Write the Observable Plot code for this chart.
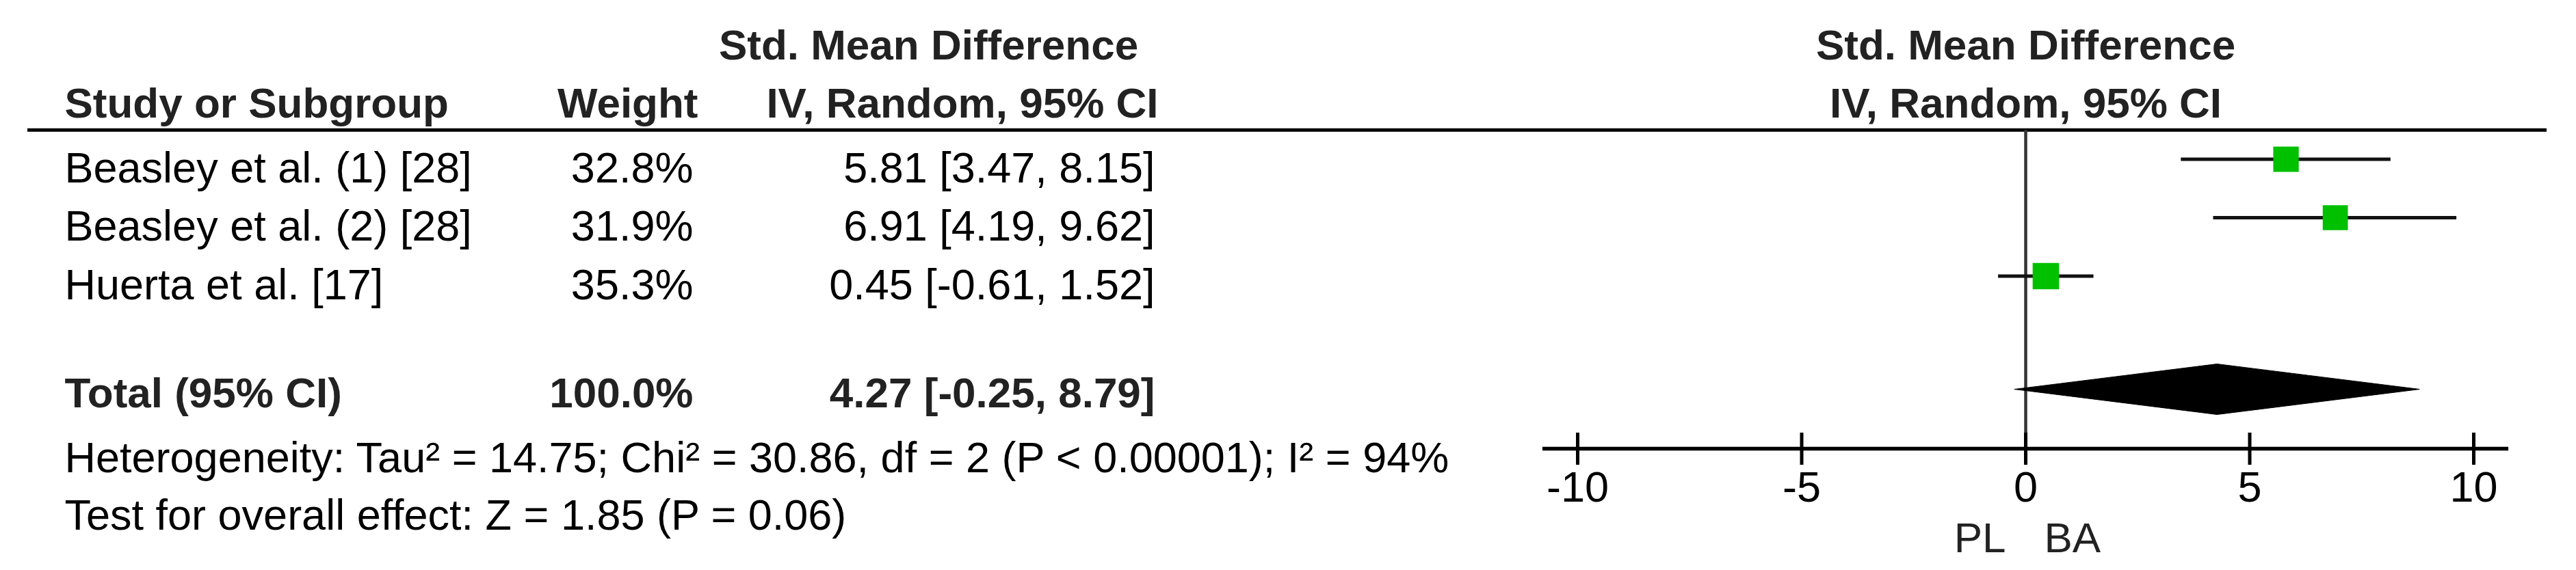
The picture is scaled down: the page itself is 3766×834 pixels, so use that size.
<!DOCTYPE html>
<html>
<head>
<meta charset="utf-8">
<script src="https://cdn.jsdelivr.net/npm/d3@7"></script>
<script src="https://cdn.jsdelivr.net/npm/@observablehq/plot@0.6"></script>
<style>
  html, body { margin: 0; padding: 0; background: #fff; }
  #chart { width: 3766px; height: 834px; overflow: hidden; }
</style>
</head>
<body>
<div id="chart"></div>
<script>
// ---------------- data ----------------
const studies   = ["Beasley et al. (1) [28]", "Beasley et al. (2) [28]", "Huerta et al. [17]"];
const weights   = [32.8, 31.9, 35.3];          // %
const smd       = [5.81, 6.91, 0.45];
const ciLow     = [3.47, 4.19, -0.61];
const ciHigh    = [8.15, 9.62, 1.52];

const totalLabel  = "Total (95% CI)";
const totalWeight = 100.0;
const totalSMD    = 4.27;
const totalLow    = -0.25;
const totalHigh   = 8.79;

const heterogeneity = "Heterogeneity: Tau\u00B2 = 14.75; Chi\u00B2 = 30.86, df = 2 (P < 0.00001); I\u00B2 = 94%";
const overallTest   = "Test for overall effect: Z = 1.85 (P = 0.06)";

const tickValues   = [-10, -5, 0, 5, 10];
const nullEffect   = 0;
const favoursLabels = ["PL", "BA"];

const headStudy   = "Study or Subgroup";
const headWeight  = "Weight";
const headEffect1 = "Std. Mean Difference";
const headEffect2 = "IV, Random, 95% CI";

// ---------------- layout (row units: 1 = one study line) ----------------
const L = {
  head1: -1.713, head2: -0.713, rule: -0.5, textDy: 33.5,
  total: 3.936, totalText: 4.248, het: 5.359, test: 6.345,
  axis: 4.953, tickTop: 4.684, tickBot: 5.234, tickLab: 5.857, dirLab: 6.723,
  diamondHalf: 37 / 85.5, axisPad: 0.78
};
const col = { study: 54, weight: 973, weightHead: 980, ci: 1648, ciHead: 1653, effHead: 1317 };

const FONT = "'Liberation Sans', Arial, Helvetica, sans-serif";
const FS = 63, FSB = 62;
const rows = d3.range(studies.length);
const fmtW = w => `${w.toFixed(1)}%`;
const fmtCI = (m, lo, hi) => `${m.toFixed(2)} [${lo.toFixed(2)}, ${hi.toFixed(2)}]`;

const diamond = [
  {x: totalLow,  y: L.total},
  {x: totalSMD,  y: L.total - L.diamondHalf},
  {x: totalHigh, y: L.total},
  {x: totalSMD,  y: L.total + L.diamondHalf},
  {x: totalLow,  y: L.total}
];

const leftText = (data, o) => Plot.text(data, {frameAnchor: "left", lineAnchor: "bottom", fontSize: FS, fill: "#000", ...o});
const bold = {fontWeight: "bold", fontSize: FSB, fill: "#222"};

const chart = Plot.plot({
  width: 3766,
  height: 834,
  marginLeft: 40, marginRight: 43, marginTop: 0, marginBottom: 0,
  style: {fontFamily: FONT, background: "#fff", color: "#000", overflow: "visible"},
  x: {domain: [-10, 10], range: [2306, 3616], axis: null},
  y: {domain: [0, 1], range: [232.5, 318], axis: null},
  r: {type: "sqrt", domain: [0, d3.max(weights)], range: [0, 21.8]},
  marks: [
    // header rule
    Plot.ruleY([L.rule], {stroke: "#000", strokeWidth: 5}),
    // zero line
    Plot.ruleX([nullEffect], {y1: L.rule, y2: L.tickBot, stroke: "#333", strokeWidth: 4.5}),
    // table headers
    leftText([headEffect1], {text: d => d, y: L.head1, dx: col.effHead, textAnchor: "middle", ...bold}),
    leftText([headStudy], {text: d => d, y: L.head2, dx: col.study, textAnchor: "start", ...bold}),
    leftText([headWeight], {text: d => d, y: L.head2, dx: col.weightHead, textAnchor: "end", ...bold}),
    leftText([headEffect2], {text: d => d, y: L.head2, dx: col.ciHead, textAnchor: "end", ...bold}),
    // forest headers
    Plot.text([headEffect1], {x: nullEffect, y: L.head1, text: d => d, lineAnchor: "bottom", textAnchor: "middle", ...bold}),
    Plot.text([headEffect2], {x: nullEffect, y: L.head2, text: d => d, lineAnchor: "bottom", textAnchor: "middle", ...bold}),
    // study rows
    leftText(rows, {y: i => i, dy: L.textDy, text: i => studies[i], dx: col.study, textAnchor: "start"}),
    leftText(rows, {y: i => i, dy: L.textDy, text: i => fmtW(weights[i]), dx: col.weight, textAnchor: "end"}),
    leftText(rows, {y: i => i, dy: L.textDy, text: i => fmtCI(smd[i], ciLow[i], ciHigh[i]), dx: col.ci, textAnchor: "end"}),
    // total row
    leftText([totalLabel], {text: d => d, y: L.totalText, dx: col.study, textAnchor: "start", ...bold}),
    leftText([totalWeight], {text: d => fmtW(d), y: L.totalText, dx: col.weight, textAnchor: "end", ...bold}),
    leftText([totalSMD], {text: d => fmtCI(d, totalLow, totalHigh), y: L.totalText, dx: col.ci, textAnchor: "end", ...bold}),
    // statistics
    leftText([heterogeneity], {text: d => d, y: L.het, dx: col.study, textAnchor: "start"}),
    leftText([overallTest], {text: d => d, y: L.test, dx: col.study, textAnchor: "start"}),
    // confidence intervals and study squares
    Plot.ruleY(rows, {y: i => i, x1: i => ciLow[i], x2: i => ciHigh[i], stroke: "#111", strokeWidth: 5}),
    Plot.dot(rows, {x: i => smd[i], y: i => i, r: i => weights[i], symbol: "square", fill: "#00c000", stroke: "none"}),
    // pooled diamond
    Plot.line(diamond, {x: "x", y: "y", fill: "#000", stroke: "#000", strokeWidth: 1}),
    // x axis
    Plot.ruleY([L.axis], {x1: tickValues[0] - L.axisPad, x2: tickValues[tickValues.length - 1] + L.axisPad, stroke: "#000", strokeWidth: 5.5}),
    Plot.ruleX(tickValues, {x: d => d, y1: L.tickTop, y2: L.tickBot, stroke: "#000", strokeWidth: 5}),
    Plot.text(tickValues, {x: d => d, y: L.tickLab, text: d => String(d), lineAnchor: "bottom", textAnchor: "middle", fontSize: FS, fill: "#000"}),
    // favours labels
    Plot.text([favoursLabels[0]], {x: nullEffect, y: L.dirLab, text: d => d, dx: -29, textAnchor: "end", lineAnchor: "bottom", fontSize: FSB, fill: "#222"}),
    Plot.text([favoursLabels[1]], {x: nullEffect, y: L.dirLab, text: d => d, dx: 27, textAnchor: "start", lineAnchor: "bottom", fontSize: FSB, fill: "#222"})
  ]
});
document.getElementById("chart").appendChild(chart);
</script>
</body>
</html>
